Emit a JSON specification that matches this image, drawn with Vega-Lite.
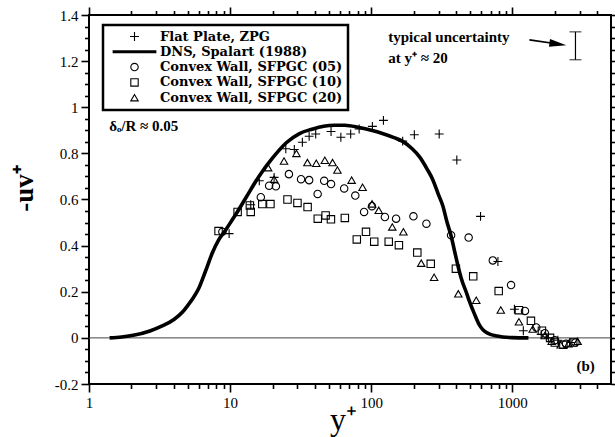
{
  "$schema": "https://vega.github.io/schema/vega-lite/v6.json",
  "width": 522,
  "height": 369,
  "autosize": {"type": "none"},
  "padding": {"left": 89, "top": 15, "right": 4, "bottom": 53},
  "background": "white",
  "config": {
    "view": {"stroke": "black", "strokeWidth": 2},
    "axis": {"grid": false, "domain": false, "ticks": true, "tickColor": "black", "tickWidth": 1.6, "tickOpacity": 1, "labelFont": "Liberation Serif", "labelFontSize": 15, "labelColor": "black", "labelFlush": false, "labelOverlap": false, "titleColor": "black", "titleFont": "Liberation Serif"},
    "legend": {"strokeWidth": 2.5}
  },
  "datasets": {
    "zero": [{"y": 0}],
    "dns": [
      {"x": 1.4, "y": 0.0}, {"x": 1.7, "y": 0.004}, {"x": 2.1, "y": 0.012}, {"x": 2.7, "y": 0.03}, {"x": 3.3, "y": 0.052}, {"x": 4.0, "y": 0.08}, {"x": 4.6, "y": 0.112}, {"x": 5.0, "y": 0.14}, {"x": 5.5, "y": 0.175}, {"x": 6.0, "y": 0.215}, {"x": 6.7, "y": 0.29}, {"x": 7.5, "y": 0.37}, {"x": 8.3, "y": 0.425}, {"x": 9.3, "y": 0.468}, {"x": 10.3, "y": 0.51}, {"x": 11.3, "y": 0.548}, {"x": 13, "y": 0.61}, {"x": 16, "y": 0.70}, {"x": 20, "y": 0.78}, {"x": 25, "y": 0.846}, {"x": 31, "y": 0.886}, {"x": 38, "y": 0.905}, {"x": 46, "y": 0.918}, {"x": 55, "y": 0.922}, {"x": 65, "y": 0.922}, {"x": 82, "y": 0.912}, {"x": 100, "y": 0.9}, {"x": 120, "y": 0.886}, {"x": 145, "y": 0.868}, {"x": 167, "y": 0.852}, {"x": 195, "y": 0.82}, {"x": 220, "y": 0.785}, {"x": 250, "y": 0.73}, {"x": 272, "y": 0.688}, {"x": 300, "y": 0.62}, {"x": 321, "y": 0.574}, {"x": 345, "y": 0.5}, {"x": 367, "y": 0.445}, {"x": 395, "y": 0.36}, {"x": 421, "y": 0.288}, {"x": 444, "y": 0.24}, {"x": 470, "y": 0.2}, {"x": 495, "y": 0.16}, {"x": 525, "y": 0.12}, {"x": 552, "y": 0.088}, {"x": 585, "y": 0.055}, {"x": 615, "y": 0.037}, {"x": 660, "y": 0.022}, {"x": 706, "y": 0.014}, {"x": 780, "y": 0.008}, {"x": 853, "y": 0.004}, {"x": 1000, "y": 0.001}, {"x": 1300, "y": 0.0}
    ],
    "pts": [
      {"s": "Flat Plate, ZPG", "x": 9.84, "y": 0.452}, {"s": "Flat Plate, ZPG", "x": 14.0, "y": 0.577}, {"s": "Flat Plate, ZPG", "x": 16.1, "y": 0.681}, {"s": "Flat Plate, ZPG", "x": 20.5, "y": 0.696}, {"s": "Flat Plate, ZPG", "x": 24.8, "y": 0.82}, {"s": "Flat Plate, ZPG", "x": 28.5, "y": 0.817}, {"s": "Flat Plate, ZPG", "x": 32.5, "y": 0.848}, {"s": "Flat Plate, ZPG", "x": 36.3, "y": 0.874}, {"s": "Flat Plate, ZPG", "x": 40.4, "y": 0.884}, {"s": "Flat Plate, ZPG", "x": 51.9, "y": 0.895}, {"s": "Flat Plate, ZPG", "x": 60.9, "y": 0.87}, {"s": "Flat Plate, ZPG", "x": 71.5, "y": 0.884}, {"s": "Flat Plate, ZPG", "x": 82.1, "y": 0.906}, {"s": "Flat Plate, ZPG", "x": 101.9, "y": 0.917}, {"s": "Flat Plate, ZPG", "x": 122, "y": 0.943}, {"s": "Flat Plate, ZPG", "x": 167, "y": 0.853}, {"s": "Flat Plate, ZPG", "x": 202, "y": 0.881}, {"s": "Flat Plate, ZPG", "x": 303, "y": 0.884}, {"s": "Flat Plate, ZPG", "x": 404, "y": 0.771}, {"s": "Flat Plate, ZPG", "x": 595, "y": 0.527}, {"s": "Flat Plate, ZPG", "x": 790, "y": 0.331}, {"s": "Flat Plate, ZPG", "x": 1034, "y": 0.124}, {"s": "Flat Plate, ZPG", "x": 1196, "y": 0.031}, {"s": "Flat Plate, ZPG", "x": 1600, "y": 0.015}, {"s": "Flat Plate, ZPG", "x": 1800, "y": 0.0}, {"s": "Flat Plate, ZPG", "x": 2100, "y": -0.01}, {"s": "Flat Plate, ZPG", "x": 2600, "y": -0.02},
      {"s": "Convex Wall, SFPGC (05)", "x": 8.81, "y": 0.46}, {"s": "Convex Wall, SFPGC (05)", "x": 16.5, "y": 0.61}, {"s": "Convex Wall, SFPGC (05)", "x": 18.9, "y": 0.66}, {"s": "Convex Wall, SFPGC (05)", "x": 21.1, "y": 0.657}, {"s": "Convex Wall, SFPGC (05)", "x": 26.1, "y": 0.71}, {"s": "Convex Wall, SFPGC (05)", "x": 31.8, "y": 0.688}, {"s": "Convex Wall, SFPGC (05)", "x": 36.3, "y": 0.684}, {"s": "Convex Wall, SFPGC (05)", "x": 41.7, "y": 0.624}, {"s": "Convex Wall, SFPGC (05)", "x": 46.4, "y": 0.681}, {"s": "Convex Wall, SFPGC (05)", "x": 51.9, "y": 0.667}, {"s": "Convex Wall, SFPGC (05)", "x": 64.3, "y": 0.648}, {"s": "Convex Wall, SFPGC (05)", "x": 77.1, "y": 0.617}, {"s": "Convex Wall, SFPGC (05)", "x": 89, "y": 0.546}, {"s": "Convex Wall, SFPGC (05)", "x": 101.2, "y": 0.571}, {"s": "Convex Wall, SFPGC (05)", "x": 125, "y": 0.524}, {"s": "Convex Wall, SFPGC (05)", "x": 150, "y": 0.517}, {"s": "Convex Wall, SFPGC (05)", "x": 199, "y": 0.527}, {"s": "Convex Wall, SFPGC (05)", "x": 246, "y": 0.495}, {"s": "Convex Wall, SFPGC (05)", "x": 368, "y": 0.445}, {"s": "Convex Wall, SFPGC (05)", "x": 490, "y": 0.435}, {"s": "Convex Wall, SFPGC (05)", "x": 727, "y": 0.336}, {"s": "Convex Wall, SFPGC (05)", "x": 979, "y": 0.229}, {"s": "Convex Wall, SFPGC (05)", "x": 1229, "y": 0.117}, {"s": "Convex Wall, SFPGC (05)", "x": 1477, "y": 0.045}, {"s": "Convex Wall, SFPGC (05)", "x": 1700, "y": 0.02}, {"s": "Convex Wall, SFPGC (05)", "x": 2000, "y": -0.01}, {"s": "Convex Wall, SFPGC (05)", "x": 2400, "y": -0.025}, {"s": "Convex Wall, SFPGC (05)", "x": 2800, "y": -0.02},
      {"s": "Convex Wall, SFPGC (10)", "x": 8.28, "y": 0.463}, {"s": "Convex Wall, SFPGC (10)", "x": 11.3, "y": 0.546}, {"s": "Convex Wall, SFPGC (10)", "x": 13.8, "y": 0.574}, {"s": "Convex Wall, SFPGC (10)", "x": 14.0, "y": 0.546}, {"s": "Convex Wall, SFPGC (10)", "x": 16.9, "y": 0.58}, {"s": "Convex Wall, SFPGC (10)", "x": 19.3, "y": 0.58}, {"s": "Convex Wall, SFPGC (10)", "x": 25.5, "y": 0.6}, {"s": "Convex Wall, SFPGC (10)", "x": 30.0, "y": 0.585}, {"s": "Convex Wall, SFPGC (10)", "x": 35.4, "y": 0.567}, {"s": "Convex Wall, SFPGC (10)", "x": 41.8, "y": 0.517}, {"s": "Convex Wall, SFPGC (10)", "x": 47.5, "y": 0.531}, {"s": "Convex Wall, SFPGC (10)", "x": 51.8, "y": 0.514}, {"s": "Convex Wall, SFPGC (10)", "x": 65, "y": 0.52}, {"s": "Convex Wall, SFPGC (10)", "x": 79, "y": 0.427}, {"s": "Convex Wall, SFPGC (10)", "x": 91.8, "y": 0.46}, {"s": "Convex Wall, SFPGC (10)", "x": 105, "y": 0.417}, {"s": "Convex Wall, SFPGC (10)", "x": 133, "y": 0.417}, {"s": "Convex Wall, SFPGC (10)", "x": 157, "y": 0.402}, {"s": "Convex Wall, SFPGC (10)", "x": 212, "y": 0.37}, {"s": "Convex Wall, SFPGC (10)", "x": 264, "y": 0.321}, {"s": "Convex Wall, SFPGC (10)", "x": 398, "y": 0.3}, {"s": "Convex Wall, SFPGC (10)", "x": 528, "y": 0.267}, {"s": "Convex Wall, SFPGC (10)", "x": 800, "y": 0.203}, {"s": "Convex Wall, SFPGC (10)", "x": 1113, "y": 0.12}, {"s": "Convex Wall, SFPGC (10)", "x": 1354, "y": 0.074}, {"s": "Convex Wall, SFPGC (10)", "x": 1620, "y": 0.031}, {"s": "Convex Wall, SFPGC (10)", "x": 1850, "y": 0.0}, {"s": "Convex Wall, SFPGC (10)", "x": 2000, "y": -0.02}, {"s": "Convex Wall, SFPGC (10)", "x": 2300, "y": -0.03}, {"s": "Convex Wall, SFPGC (10)", "x": 2700, "y": -0.02},
      {"s": "Convex Wall, SFPGC (20)", "x": 18.6, "y": 0.738}, {"s": "Convex Wall, SFPGC (20)", "x": 20.5, "y": 0.688}, {"s": "Convex Wall, SFPGC (20)", "x": 24.1, "y": 0.767}, {"s": "Convex Wall, SFPGC (20)", "x": 29.5, "y": 0.8}, {"s": "Convex Wall, SFPGC (20)", "x": 35.3, "y": 0.76}, {"s": "Convex Wall, SFPGC (20)", "x": 40.8, "y": 0.757}, {"s": "Convex Wall, SFPGC (20)", "x": 46.9, "y": 0.77}, {"s": "Convex Wall, SFPGC (20)", "x": 53.2, "y": 0.76}, {"s": "Convex Wall, SFPGC (20)", "x": 57.6, "y": 0.728}, {"s": "Convex Wall, SFPGC (20)", "x": 72.6, "y": 0.684}, {"s": "Convex Wall, SFPGC (20)", "x": 86.8, "y": 0.653}, {"s": "Convex Wall, SFPGC (20)", "x": 101.3, "y": 0.581}, {"s": "Convex Wall, SFPGC (20)", "x": 113, "y": 0.553}, {"s": "Convex Wall, SFPGC (20)", "x": 141, "y": 0.481}, {"s": "Convex Wall, SFPGC (20)", "x": 169, "y": 0.46}, {"s": "Convex Wall, SFPGC (20)", "x": 226, "y": 0.324}, {"s": "Convex Wall, SFPGC (20)", "x": 279, "y": 0.263}, {"s": "Convex Wall, SFPGC (20)", "x": 414, "y": 0.191}, {"s": "Convex Wall, SFPGC (20)", "x": 555, "y": 0.163}, {"s": "Convex Wall, SFPGC (20)", "x": 828, "y": 0.121}, {"s": "Convex Wall, SFPGC (20)", "x": 1113, "y": 0.07}, {"s": "Convex Wall, SFPGC (20)", "x": 1393, "y": 0.038}, {"s": "Convex Wall, SFPGC (20)", "x": 1700, "y": 0.01}, {"s": "Convex Wall, SFPGC (20)", "x": 1900, "y": -0.015}, {"s": "Convex Wall, SFPGC (20)", "x": 2200, "y": -0.03}, {"s": "Convex Wall, SFPGC (20)", "x": 2500, "y": -0.025}, {"s": "Convex Wall, SFPGC (20)", "x": 2900, "y": -0.015}
    ],
    "notes": [
      {"t": "δₒ/R ≈ 0.05", "x": 1.39, "y": 0.92},
      {"t": "typical uncertainty", "x": 132, "y": 1.305},
      {"t": "at y⁺ ≈ 20", "x": 132, "y": 1.214},
      {"t": "(b)", "x": 2844, "y": -0.121}
    ],
    "arrow": [{"x": 1321, "y": 1.292}, {"x": 2102, "y": 1.274}],
    "head": [{"x": 2102, "y": 1.274}],
    "err": [{"x": 2800, "lo": 1.206, "hi": 1.327}]
  },
  "layer": [
    {
      "data": {"name": "zero"},
      "mark": {"type": "rule", "color": "#444", "strokeWidth": 1},
      "encoding": {"y": {"field": "y", "type": "quantitative", "scale": {"domain": [-0.2, 1.4], "nice": false, "zero": false}, "axis": null}}
    },
    {
      "data": {"name": "dns"},
      "mark": {"type": "line", "color": "black", "strokeWidth": 3.6, "interpolate": "monotone"},
      "encoding": {
        "x": {"field": "x", "type": "quantitative", "scale": {"type": "log", "domain": [1, 5000], "nice": false},
          "axis": {"orient": "bottom", "values": [1, 10, 100, 1000], "format": "d", "tickSize": 8, "labelPadding": 3,
            "encode": {"ticks": {"update": {"y2": {"value": -8}}}},
            "title": "y⁺", "titleFontSize": 32, "titleFontWeight": "normal", "titleX": 254, "titleY": 45, "titleBaseline": "alphabetic", "titleAlign": "center"}},
        "y": {"field": "y", "type": "quantitative", "scale": {"domain": [-0.2, 1.4], "nice": false, "zero": false},
          "axis": {"orient": "left", "values": [-0.2, 0, 0.2, 0.4, 0.6, 0.8, 1, 1.2, 1.4], "tickSize": 8, "labelPadding": 3,
            "encode": {"ticks": {"update": {"x2": {"value": 8}}}},
            "labelExpr": "replace(format(datum.value, '.1~f'), '−', '-')",
            "title": "-uv⁺", "titleFontSize": 27, "titleFontWeight": "bold", "titleX": -57, "titleY": 173, "titleBaseline": "alphabetic", "titleAlign": "center", "titleAngle": -90}}
      }
    },
    {
      "data": {"name": "pts"},
      "mark": {"type": "point", "filled": false, "color": "black", "strokeWidth": 1.1, "size": 55, "opacity": 1},
      "encoding": {
        "x": {"field": "x", "type": "quantitative",
          "axis": {"orient": "top", "values": [1, 10, 100, 1000], "labels": false, "title": null, "tickSize": 8,
            "encode": {"ticks": {"update": {"y2": {"value": 8}}}}}},
        "y": {"field": "y", "type": "quantitative",
          "axis": {"orient": "right", "values": [-0.2, 0, 0.2, 0.4, 0.6, 0.8, 1, 1.2, 1.4], "labels": false, "title": null, "tickSize": 8,
            "encode": {"ticks": {"update": {"x2": {"value": -8}}}}}},
        "shape": {"field": "s", "type": "nominal",
          "scale": {"domain": ["Flat Plate, ZPG", "DNS, Spalart (1988)", "Convex Wall, SFPGC (05)", "Convex Wall, SFPGC (10)", "Convex Wall, SFPGC (20)"],
            "range": ["M-1.2,0H1.2M0,-1.2V1.2", "M-5.9,-0.25H5.9M-5.9,0H5.9M-5.9,0.25H5.9", "circle", "square", "triangle-up"]},
          "legend": {"orient": "none", "legendX": 14, "legendY": 10, "title": null, "padding": 5, "rowPadding": 1.3, "symbolOffset": 20, "labelOffset": 19,
            "labelExpr": "join(split(datum.label, ' '), ' ')",
            "fillColor": "white", "strokeColor": "black", "labelFont": "DejaVu Serif", "labelFontSize": 13, "labelFontWeight": "bold", "labelColor": "black", "labelLimit": 400,
            "symbolSize": 55, "symbolStrokeWidth": 1.1, "symbolFillColor": "transparent", "symbolStrokeColor": "black"}}
      }
    },
    {
      "data": {"name": "notes"},
      "mark": {"type": "text", "align": "left", "baseline": "middle", "font": "Liberation Serif", "fontSize": 15, "fontWeight": "bold", "color": "black"},
      "encoding": {
        "x": {"field": "x", "type": "quantitative",
          "axis": {"orient": "bottom", "values": [2,3,4,5,6,7,8,9,20,30,40,50,60,70,80,90,200,300,400,500,600,700,800,900,2000,3000,4000], "labels": false, "title": null, "tickSize": 4.5,
            "encode": {"ticks": {"update": {"y2": {"value": -4.5}}}}}},
        "y": {"field": "y", "type": "quantitative",
          "axis": {"orient": "left", "values": [-0.15,-0.1,-0.05,0.05,0.1,0.15,0.25,0.3,0.35,0.45,0.5,0.55,0.65,0.7,0.75,0.85,0.9,0.95,1.05,1.1,1.15,1.25,1.3,1.35], "labels": false, "title": null, "tickSize": 4.5,
            "encode": {"ticks": {"update": {"x2": {"value": 4.5}}}}}},
        "text": {"field": "t"}
      }
    },
    {
      "data": {"name": "arrow"},
      "mark": {"type": "line", "color": "black", "strokeWidth": 1.6},
      "encoding": {
        "x": {"field": "x", "type": "quantitative",
          "axis": {"orient": "top", "values": [2,3,4,5,6,7,8,9,20,30,40,50,60,70,80,90,200,300,400,500,600,700,800,900,2000,3000,4000], "labels": false, "title": null, "tickSize": 4.5,
            "encode": {"ticks": {"update": {"y2": {"value": 4.5}}}}}},
        "y": {"field": "y", "type": "quantitative",
          "axis": {"orient": "right", "values": [-0.15,-0.1,-0.05,0.05,0.1,0.15,0.25,0.3,0.35,0.45,0.5,0.55,0.65,0.7,0.75,0.85,0.9,0.95,1.05,1.1,1.15,1.25,1.3,1.35], "labels": false, "title": null, "tickSize": 4.5,
            "encode": {"ticks": {"update": {"x2": {"value": -4.5}}}}}}
      }
    },
    {
      "data": {"name": "head"},
      "mark": {"type": "point", "shape": "M-1,-0.45L1,0L-1,0.45Z", "filled": true, "color": "black", "size": 290, "angle": 8, "opacity": 1},
      "encoding": {"x": {"field": "x", "type": "quantitative", "axis": null}, "y": {"field": "y", "type": "quantitative", "axis": null}}
    },
    {
      "data": {"name": "err"},
      "mark": {"type": "rule", "color": "black", "strokeWidth": 1.2},
      "encoding": {"x": {"field": "x", "type": "quantitative", "axis": null}, "y": {"field": "lo", "type": "quantitative", "axis": null}, "y2": {"field": "hi"}}
    },
    {
      "data": {"name": "err"},
      "mark": {"type": "tick", "orient": "horizontal", "size": 12, "thickness": 1.2, "color": "black"},
      "encoding": {"x": {"field": "x", "type": "quantitative", "axis": null}, "y": {"field": "lo", "type": "quantitative", "axis": null}}
    },
    {
      "data": {"name": "err"},
      "mark": {"type": "tick", "orient": "horizontal", "size": 12, "thickness": 1.2, "color": "black"},
      "encoding": {"x": {"field": "x", "type": "quantitative", "axis": null}, "y": {"field": "hi", "type": "quantitative", "axis": null}}
    }
  ],
  "resolve": {"axis": {"x": "independent", "y": "independent"}}
}
